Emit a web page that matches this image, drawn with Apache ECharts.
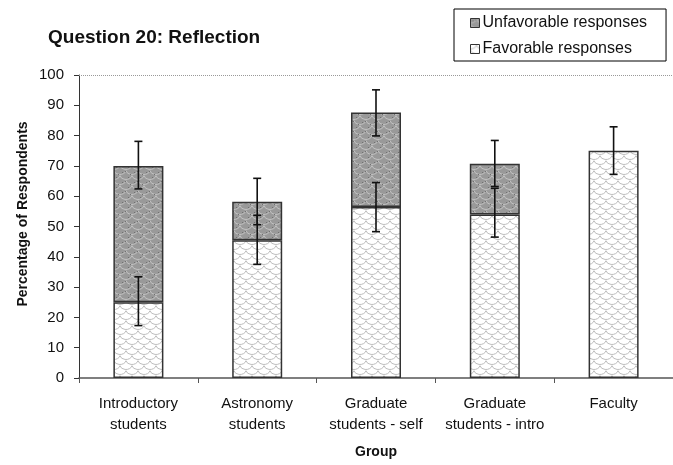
<!DOCTYPE html>
<html>
<head>
<meta charset="utf-8">
<script src="https://cdn.jsdelivr.net/npm/echarts@6/dist/echarts.min.js"></script>
<style>
html,body{margin:0;padding:0;background:#fff;}
#chart{width:673px;height:465px;}
</style>
</head>
<body>
<div id="chart"></div>
<script>
// ---- data ----
const categories = ['Introductory\nstudents', 'Astronomy\nstudents', 'Graduate\nstudents - self', 'Graduate\nstudents - intro', 'Faculty'];
const favorable = [25, 45.5, 56.4, 54, 75];
const unfavorable = [45, 12.7, 31.2, 16.7, null];
const favErrLow = [17.3, 37.5, 48.3, 46.5, 67.2];
const favErrHigh = [33.4, 53.7, 64.5, 62.6, 82.9];
const unfavErrLow = [62.4, 50.6, 79.9, 63.2, null];
const unfavErrHigh = [78.1, 65.9, 95.1, 78.4, null];
const yTicks = [0, 10, 20, 30, 40, 50, 60, 70, 80, 90, 100];

function makePattern(bg, fg, dots) {
  const c = document.createElement('canvas');
  c.width = 12; c.height = 10;
  const g = c.getContext('2d');
  g.fillStyle = bg; g.fillRect(0, 0, 12, 10);
  g.strokeStyle = fg; g.lineWidth = 1;
  const arcs = [[0, 0], [12, 0], [6, 5], [0, 10], [12, 10], [-6, 5], [18, 5]];
  arcs.forEach(([cx, cy]) => {
    g.beginPath();
    g.ellipse(cx, cy, 6, 4.5, 0, 0.05 * Math.PI, 0.95 * Math.PI);
    g.stroke();
  });
  if (dots) {
    g.fillStyle = dots;
    g.fillRect(2, 2, 1, 1); g.fillRect(8, 7, 1, 1); g.fillRect(5, 1, 1, 1); g.fillRect(10, 4, 1, 1);
  }
  return { image: c, repeat: 'repeat' };
}
const favPattern = makePattern('#ffffff', '#bdbdbd', null);
const unfavPattern = makePattern('#999999', '#c2c2c2', '#707070');

function errData(lo, hi) {
  const out = [];
  lo.forEach((v, i) => { if (v != null && hi[i] != null) out.push([i, v, hi[i]]); });
  return out;
}
function renderErr(params, api) {
  const x = api.value(0);
  const a = api.coord([x, api.value(1)]);
  const b = api.coord([x, api.value(2)]);
  const w = 4;
  const st = { stroke: '#111', lineWidth: 1.6 };
  return {
    type: 'group',
    children: [
      { type: 'line', shape: { x1: a[0], y1: a[1], x2: b[0], y2: b[1] }, style: st },
      { type: 'line', shape: { x1: a[0] - w, y1: a[1], x2: a[0] + w, y2: a[1] }, style: st },
      { type: 'line', shape: { x1: b[0] - w, y1: b[1], x2: b[0] + w, y2: b[1] }, style: st }
    ]
  };
}

const chart = echarts.init(document.getElementById('chart'), null, { renderer: 'canvas' });
const font = 'Liberation Sans, Arial, sans-serif';
chart.setOption({
  animation: false,
  backgroundColor: '#fff',
  textStyle: { fontFamily: font },
  title: {
    text: 'Question 20: Reflection',
    left: 43, top: 23,
    textStyle: { fontSize: 19, fontWeight: 'bold', color: '#111', fontFamily: font }
  },
  graphic: [{
    type: 'text',
    x: 23, y: 214,
    rotation: Math.PI / 2,
    style: {
      text: 'Percentage of Respondents',
      fontSize: 14, fontWeight: 'bold', fill: '#111', fontFamily: font,
      align: 'center', verticalAlign: 'middle'
    }
  }],
  legend: {
    data: ['Unfavorable responses', 'Favorable responses'],
    orient: 'vertical',
    left: 454, top: 9,
    padding: [6, 19, 4, 16],
    itemGap: 10,
    itemWidth: 9, itemHeight: 9,
    icon: 'rect',
    borderColor: '#000', borderWidth: 1,
    itemStyle: { borderColor: '#333', borderWidth: 1 },
    textStyle: { fontSize: 16, color: '#111', fontFamily: font, padding: [0, 0, 0, -2] }
  },
  grid: { left: 79, right: -3, top: 75, bottom: 87 },
  xAxis: {
    type: 'category',
    data: categories,
    name: 'Group',
    nameLocation: 'middle',
    nameGap: 67,
    nameTextStyle: { fontSize: 14, fontWeight: 'bold', color: '#111' },
    axisLine: { lineStyle: { color: '#555', width: 1.5 } },
    axisTick: { show: true, alignWithLabel: false, length: 5, lineStyle: { color: '#555' } },
    axisLabel: { fontSize: 15, color: '#111', margin: 15, lineHeight: 21, interval: 0 }
  },
  yAxis: {
    type: 'value',
    min: yTicks[0], max: yTicks[yTicks.length - 1], interval: 10,
    axisLine: { show: true, lineStyle: { color: '#333', width: 1 } },
    axisTick: { show: true, inside: false, length: 5, lineStyle: { color: '#333' } },
    axisLabel: { fontSize: 15, color: '#111', margin: 15 },
    splitLine: { show: false }
  },
  series: [
    {
      name: 'Favorable responses',
      type: 'bar',
      stack: 'total',
      barWidth: 50,
      data: favorable,
      itemStyle: { color: favPattern, borderColor: '#333', borderWidth: 1.5 },
      markLine: {
        silent: true,
        symbol: 'none',
        label: { show: false },
        lineStyle: { color: '#999', type: 'dotted', width: 1 },
        data: [{ yAxis: 100 }]
      }
    },
    {
      name: 'Unfavorable responses',
      type: 'bar',
      stack: 'total',
      barWidth: 50,
      data: unfavorable,
      itemStyle: { color: unfavPattern, borderColor: '#333', borderWidth: 1.5 }
    },
    {
      name: 'favErr',
      type: 'custom',
      renderItem: renderErr,
      data: errData(favErrLow, favErrHigh),
      encode: { x: 0, y: [1, 2] },
      z: 10, silent: true
    },
    {
      name: 'unfavErr',
      type: 'custom',
      renderItem: renderErr,
      data: errData(unfavErrLow, unfavErrHigh),
      encode: { x: 0, y: [1, 2] },
      z: 10, silent: true
    }
  ]
});
</script>
</body>
</html>
